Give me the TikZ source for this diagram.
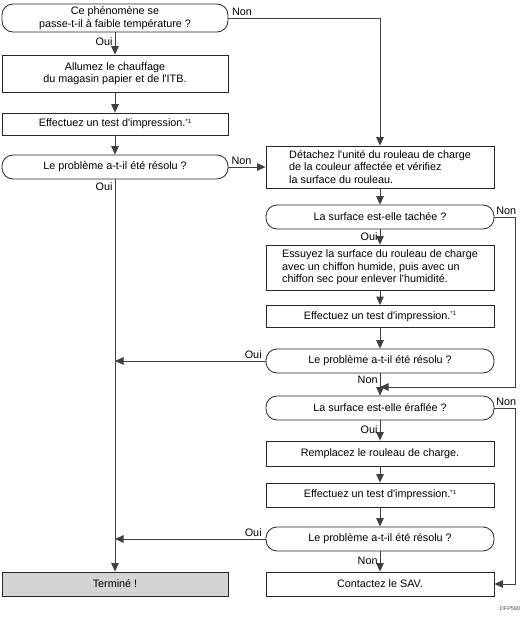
\documentclass[tikz,border=0pt]{standalone}
\usepackage{fontspec}
\setmainfont{Liberation Sans}[Ligatures=TeXOff]
\usetikzlibrary{arrows.meta}
\definecolor{ln}{HTML}{404040}
\definecolor{term}{HTML}{D4D4D4}
\newcommand{\nt}{\raisebox{3.5pt}{\fontsize{6}{6}\selectfont *1}}
\begin{document}
\begin{tikzpicture}[x=1pt,y=-1pt, font=\fontsize{10.8}{12.5}\selectfont,
  box/.style={draw=black!85, line width=0.8pt, inner sep=0pt, align=center, minimum width=226pt},
  rbox/.style={box, minimum width=228pt},
  dec/.style={box, rounded corners=11pt},
  rdec/.style={rbox, rounded corners=11pt},
  flow/.style={draw=ln, line width=0.9pt, -{Triangle[length=8.5pt,width=7.5pt]}},
  lab/.style={inner sep=2pt}]
\useasboundingbox (0,0) rectangle (523,618);

% left column
\node[dec, minimum height=28pt] (b1) at (115,18) {Ce phénomène se\\passe-t-il à faible température ?};
\node[box, minimum height=37pt] (b2) at (115,73.5) {Allumez le chauffage\\du magasin papier et de l'ITB.};
\node[box, minimum height=22pt] (b3) at (115,124) {Effectuez un test d'impression.\nt};
\node[dec, minimum height=24pt] (b4) at (115,167) {Le problème a-t-il été résolu ?};
\node[box, fill=term, minimum height=24pt] (t) at (115,584) {Terminé !};

% right column
\node[rbox, minimum height=42pt, align=left] (r1) at (380,167) {Détachez l'unité du rouleau de charge\\de la couleur affectée et vérifiez\\la surface du rouleau.};
\node[rdec, minimum height=24pt] (r2) at (380,217) {La surface est-elle tachée ?};
\node[rbox, minimum height=45pt, align=left] (r3) at (380,267.5) {Essuyez la surface du rouleau de charge\\avec un chiffon humide, puis avec un\\chiffon sec pour enlever l'humidité.};
\node[rbox, minimum height=22pt] (r4) at (380,316.5) {Effectuez un test d'impression.\nt};
\node[rdec, minimum height=24pt] (r5) at (380,361) {Le problème a-t-il été résolu ?};
\node[rdec, minimum height=24pt] (r6) at (380,408) {La surface est-elle éraflée ?};
\node[rbox, minimum height=25pt] (r7) at (380,453.5) {Remplacez le rouleau de charge.};
\node[rbox, minimum height=24pt] (r8) at (380,495) {Effectuez un test d'impression.\nt};
\node[rdec, minimum height=24pt] (r9) at (380,539) {Le problème a-t-il été résolu ?};
\node[rbox, minimum height=24pt] (r10) at (380,584) {Contactez le SAV.};

\coordinate (j1) at (380,387);
\coordinate (j2) at (115,361);
\coordinate (j3) at (115,539);

% left connectors
\draw[flow] (b1.south) -- node[lab, left, pos=0.4]{Oui} (b2.north);
\draw[flow] (b2.south) -- (b3.north);
\draw[flow] (b3.south) -- (b4.north);
\draw[flow] (b4.south) -- node[lab, pos=0, anchor=north east, yshift=-1pt]{Oui} (t.north);
\draw[flow] (b1.east) -| node[lab, pos=0.045, above]{Non} (r1.north);
\draw[flow] (b4.east) -- node[lab, pos=0.35, above]{Non} (r1.west);

% right connectors
\draw[flow] (r1.south) -- (r2.north);
\draw[flow] (r2.south) -- node[lab, left, pos=0.45]{Oui} (r3.north);
\draw[flow] (r3.south) -- (r4.north);
\draw[flow] (r4.south) -- (r5.north);
\draw[flow] (r5.south) -- node[lab, left, pos=0.3]{Non} (r6.north);
\draw[flow] (r6.south) -- node[lab, left, pos=0.45]{Oui} (r7.north);
\draw[flow] (r7.south) -- (r8.north);
\draw[flow] (r8.south) -- (r9.north);
\draw[flow] (r9.south) -- node[lab, left, pos=0.45]{Non} (r10.north);
\draw[flow] (r2.east) -- node[lab, pos=0, anchor=south west, inner sep=1.5pt]{Non} ++(21,0) |- (j1);
\draw[flow] (r6.east) -- node[lab, pos=0, anchor=south west, inner sep=1.5pt]{Non} ++(21,0) |- (r10.east);
\draw[flow] (r5.west) -- node[lab, pos=0, anchor=south east, inner sep=1.5pt, xshift=-2pt]{Oui} (j2);
\draw[flow] (r9.west) -- node[lab, pos=0, anchor=south east, inner sep=1.5pt, xshift=-2pt]{Oui} (j3);

\node[font=\fontsize{5.5}{6}\selectfont, text=black!70] (dfp) at (510,609) {DFP590};
\end{tikzpicture}
\end{document}
